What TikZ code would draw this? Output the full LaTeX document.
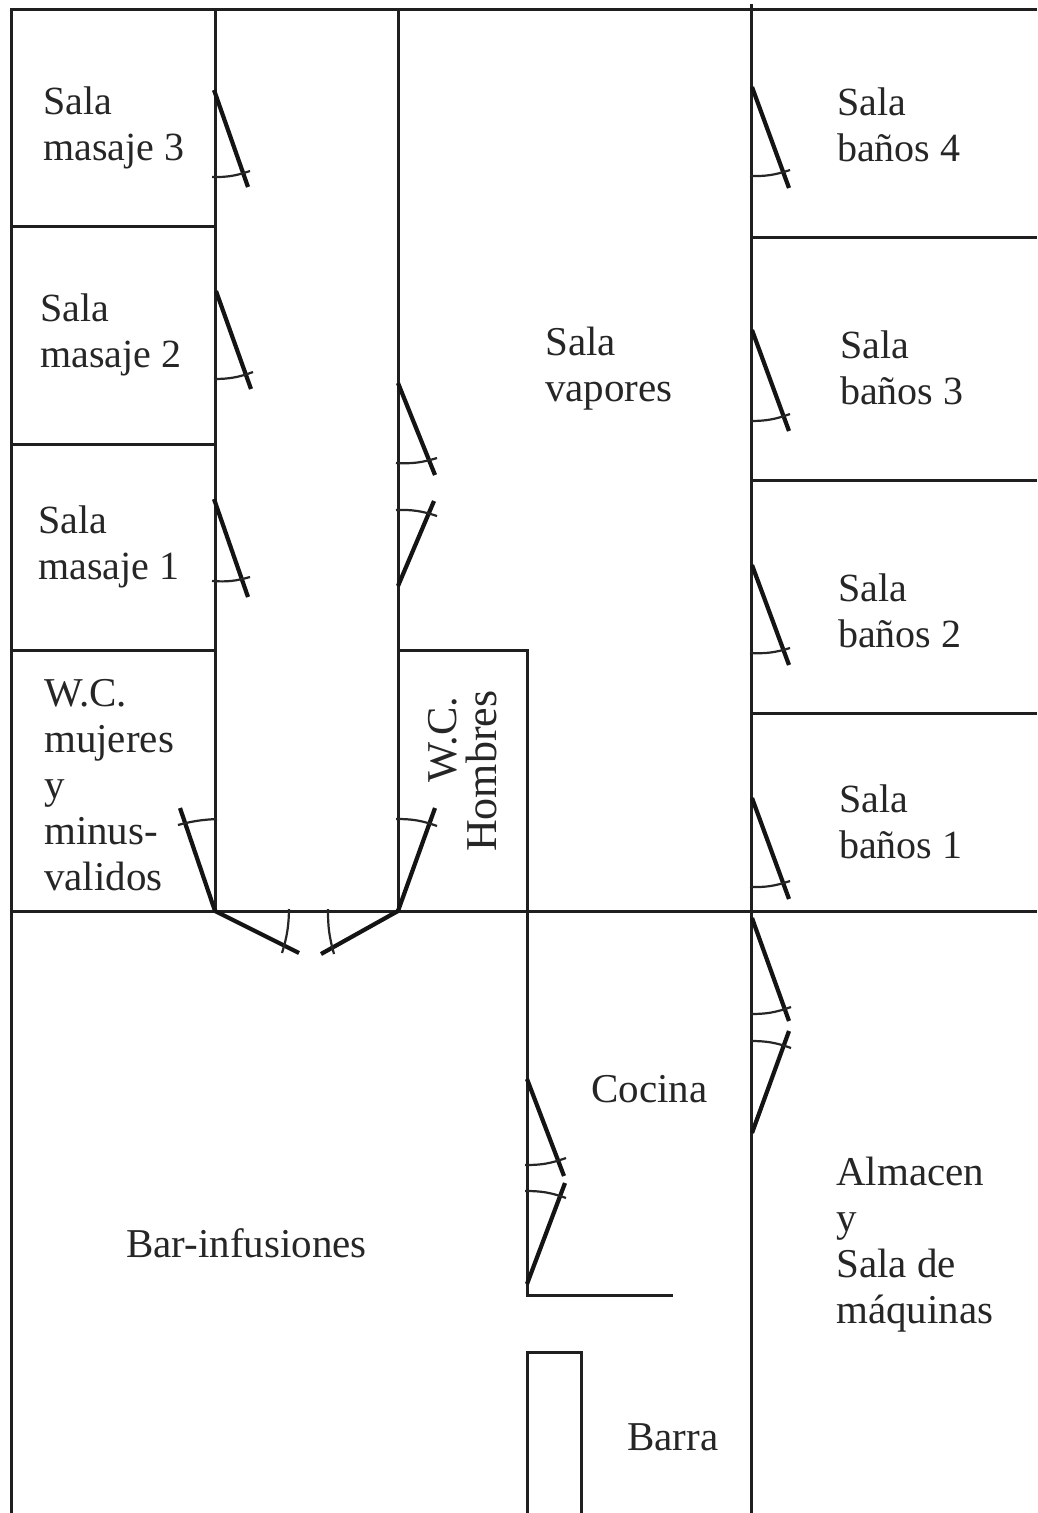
\documentclass[tikz,border=0pt]{standalone}
\usepackage{fontspec}
\setmainfont{Liberation Serif}
\tikzset{
  x=1pt,y=-1pt,
  wall/.style={line width=3pt,black!88},
  door/.style={line width=4.2pt,black!92},
  swing/.style={line width=2.2pt,black!85},
  lbl/.style={font=\fontsize{41}{46}\selectfont,align=left,anchor=north west,inner sep=0pt,text=black!85},
  slbl/.style={lbl,font=\fontsize{40}{46}\selectfont},
  rlbl/.style={anchor=base west,inner sep=0pt,rotate=90,text=black!85},
}
\begin{document}
\begin{tikzpicture}
\useasboundingbox (0,0) rectangle (1037,1513);
\fill[white] (0,0) rectangle (1037,1513);
% walls
\draw[wall] (1037,9) -- (11,9) -- (11,1513);
\draw[wall] (215,9) -- (215,911);
\draw[wall] (398,9) -- (398,911);
\draw[wall] (751,4) -- (751,1513);
\draw[wall] (11,226) -- (215,226);
\draw[wall] (11,444) -- (215,444);
\draw[wall] (11,650) -- (215,650);
\draw[wall] (11,911) -- (1037,911);
\draw[wall] (751,237) -- (1037,237);
\draw[wall] (751,480) -- (1037,480);
\draw[wall] (751,713) -- (1037,713);
\draw[wall] (398,650) -- (527,650) -- (527,1295) -- (673,1295);
\draw[wall] (527,1513) -- (527,1352) -- (581,1352) -- (581,1513);
% doors: leaf, then swing arc running across the leaf
\draw[door] (214,90) -- (248,187);   \draw[swing] (212,177) to[bend right=10] (250,171);
\draw[door] (216,291) -- (251,389);  \draw[swing] (214,379) to[bend right=10] (253,372);
\draw[door] (214,499) -- (248,597);  \draw[swing] (212,581) to[bend right=10] (250,577);
\draw[door] (398,383) -- (435,475);  \draw[swing] (396,463) to[bend right=10] (437,458);
\draw[door] (398,586) -- (434,501);  \draw[swing] (396,510) to[bend left=10] (437,516);
\draw[door] (215,911) -- (180,808);  \draw[swing] (217,819) to[bend right=6] (178,825);
\draw[door] (398,911) -- (435,808);  \draw[swing] (396,819) to[bend left=10] (437,826);
\draw[door] (215,911) -- (299,953);  \draw[swing] (289,909) to[bend left=8] (282,953);
\draw[door] (398,911) -- (321,954);  \draw[swing] (328,909) to[bend right=8] (334,954);
\draw[door] (752,87) -- (789,188);   \draw[swing] (750,176) to[bend right=10] (790,170);
\draw[door] (752,330) -- (789,431);  \draw[swing] (750,421) to[bend right=10] (790,414);
\draw[door] (752,565) -- (789,665);  \draw[swing] (750,653) to[bend right=10] (790,648);
\draw[door] (752,798) -- (789,899);  \draw[swing] (750,887) to[bend right=10] (790,881);
\draw[door] (752,918) -- (789,1021); \draw[swing] (750,1014) to[bend right=10] (791,1007);
\draw[door] (752,1133) -- (789,1031);\draw[swing] (750,1041) to[bend left=10] (791,1048);
\draw[door] (527,1079) -- (564,1176);\draw[swing] (525,1165) to[bend right=10] (566,1158);
\draw[door] (527,1284) -- (565,1183);\draw[swing] (525,1191) to[bend left=10] (566,1198);
% labels
\node[slbl] (m3) at (43,87) {Sala\\masaje 3};
\node[slbl] (m2) at (40,294) {Sala\\masaje 2};
\node[slbl] (m1) at (38,506) {Sala\\masaje 1};
\node[lbl] (wm) at (44,679) {W.C.\\mujeres\\y\\minus-\\validos};
\node[lbl] (v) at (545,327) {Sala\\vapores};
\node[slbl] (b4) at (837,88) {Sala\\baños 4};
\node[slbl] (b3) at (840,331) {Sala\\baños 3};
\node[slbl] (b2) at (838,574) {Sala\\baños 2};
\node[slbl] (b1) at (839,785) {Sala\\baños 1};
\node[rlbl,font=\fontsize{42.5}{46}\selectfont] (wc) at (456,783) {W.C.};
\node[rlbl,font=\fontsize{44}{46}\selectfont] (ho) at (496,852) {Hombres};
\node[lbl] (co) at (591,1075) {Cocina};
\node[lbl] (bi) at (126,1228) {Bar-infusiones};
\node[lbl] (al) at (836,1157) {Almacen\\y\\Sala de\\máquinas};
\node[lbl] (ba) at (627,1423) {Barra};
\end{tikzpicture}
\end{document}
